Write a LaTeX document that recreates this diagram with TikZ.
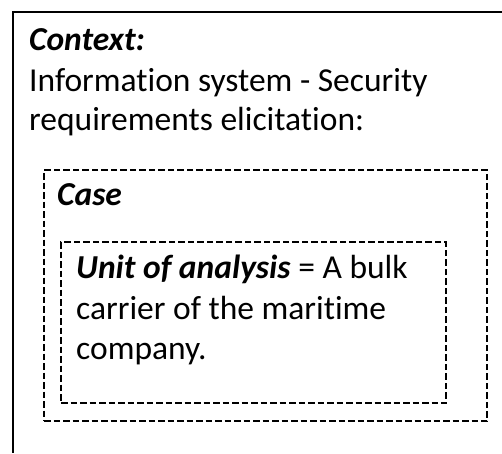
\documentclass[tikz,border=0pt]{standalone}
\usepackage{fontspec}
\setmainfont[Ligatures=NoCommon]{Carlito}
\begin{document}
\begin{tikzpicture}[x=1pt,y=-1pt,
  txt/.style={anchor=base west, inner sep=0pt, font=\fontsize{33.5}{40}\selectfont},
  dbox/.style={draw, line width=2pt, dash pattern=on 6.5pt off 3pt, anchor=north west, inner sep=0pt},
  frame/.style={line width=2pt}]
\useasboundingbox (0,0) rectangle (502,453);
% outer frame (cropped: only top and left visible)
\coordinate (ftr) at (502,12);
\coordinate (ftl) at (13,12);
\coordinate (fbl) at (13,453);
\draw[frame] (ftr) -- (ftl) -- (fbl);
% text
\node[txt] (ctx) at (29,50) {\textbf{\textit{Context:}}};
\node[txt] (l1) at (29,91) {Information system - Security};
\node[txt] (l2) at (29,130) {requirements elicitation:};
% case box
\node[dbox, minimum width=443pt, minimum height=251pt] (case) at (43,169) {};
\node[txt] (casel) at (57,205) {\textbf{\textit{Case}}};
% unit box
\node[dbox, minimum width=385pt, minimum height=161pt] (unit) at (60,241) {};
\node[txt] (u1) at (76,278) {\textbf{\textit{Unit of analysis}} = A bulk};
\node[txt] (u2) at (76,319) {carrier of the maritime};
\node[txt] (u3) at (76,359) {company.};
\end{tikzpicture}
\end{document}
